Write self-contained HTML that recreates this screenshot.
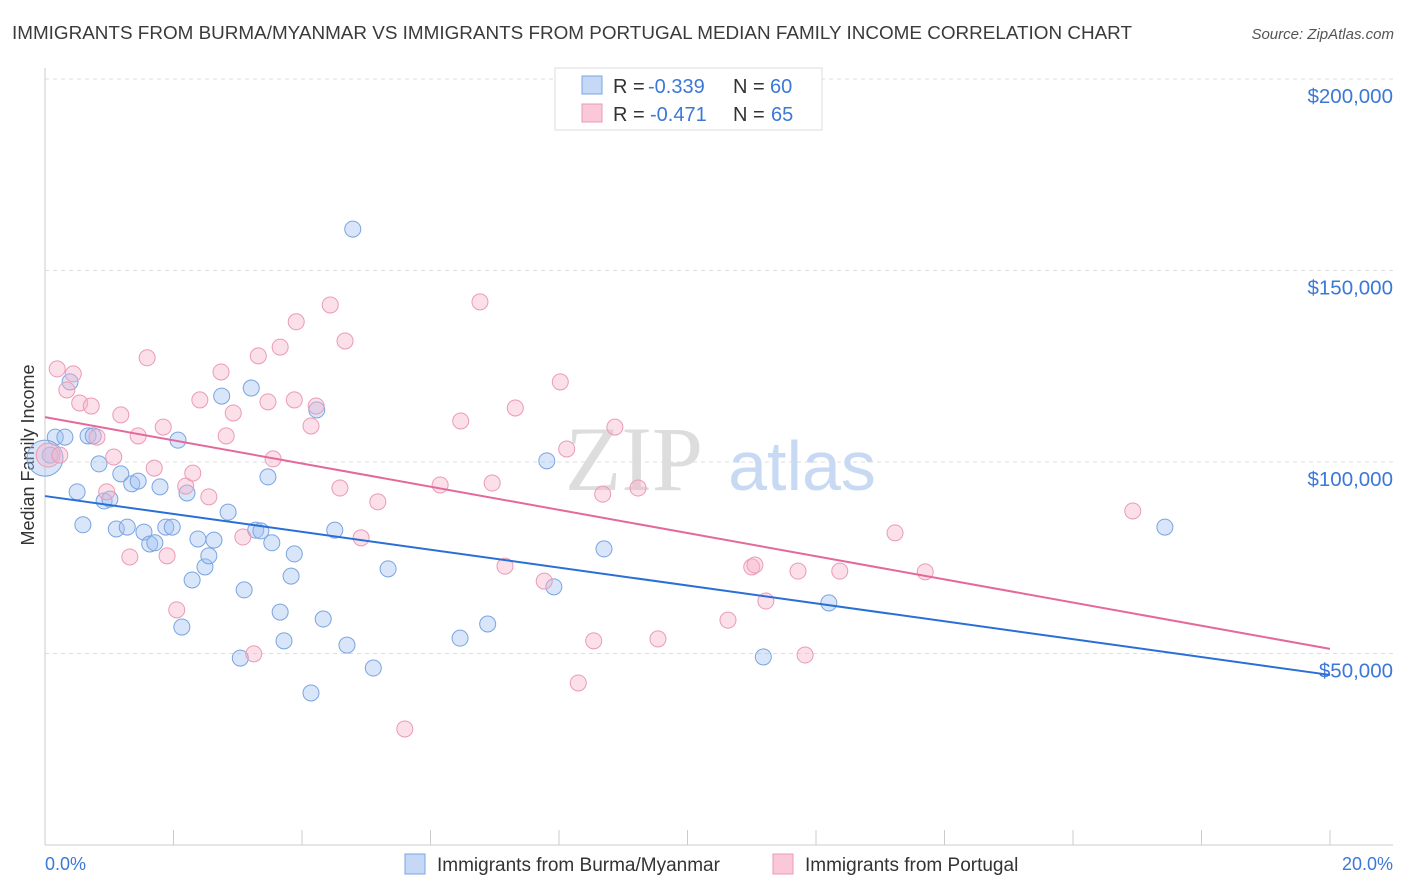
<!DOCTYPE html>
<html><head><meta charset="utf-8">
<style>
body{margin:0;background:#fff;font-family:"Liberation Sans",sans-serif;}
svg{display:block}
</style></head>
<body>
<svg id="chart" width="1406" height="892">
<text x="12" y="39" font-size="18" textLength="1120" lengthAdjust="spacingAndGlyphs" fill="#3a3a3a">IMMIGRANTS FROM BURMA/MYANMAR VS IMMIGRANTS FROM PORTUGAL MEDIAN FAMILY INCOME CORRELATION CHART</text>
<text x="1394" y="39" font-size="15" fill="#555" font-style="italic" text-anchor="end">Source: ZipAtlas.com</text>
<text transform="translate(34,455) rotate(-90)" font-size="18" fill="#333" text-anchor="middle">Median Family Income</text>
<g id="grid"></g>
<g>
<text x="634" y="490" font-size="92" font-family="Liberation Serif,serif" fill="#ddd" text-anchor="middle">ZIP</text>
<text x="802" y="490" font-size="70" fill="#c8daf3" text-anchor="middle">atlas</text>
</g>
<g id="points"></g>
<g id="lines"></g>
<g font-size="20">
<rect x="555" y="68" width="267" height="62" fill="#fff" stroke="#ddd"/>
<rect x="582" y="76" width="20" height="18" fill="#c5d8f6" stroke="#7aa4e0"/>
<rect x="582" y="104" width="20" height="18" fill="#fac8d8" stroke="#eb9ab5"/>
<g>
<text x="613" y="93" fill="#333">R =</text>
<text x="648" y="93" fill="#3b78d8">-0.339</text>
<text x="733" y="93" fill="#333">N =</text>
<text x="770" y="93" fill="#3b78d8">60</text>
</g>
<g>
<text x="613" y="121" fill="#333">R =</text>
<text x="650" y="121" fill="#3b78d8">-0.471</text>
<text x="733" y="121" fill="#333">N =</text>
<text x="771" y="121" fill="#3b78d8">65</text>
</g>
</g>
<g>
<rect x="405" y="854" width="20" height="20" fill="#c5d8f6" stroke="#7aa4e0"/>
<text x="437" y="871" font-size="19" fill="#333">Immigrants from Burma/Myanmar</text>
<rect x="773" y="854" width="20" height="20" fill="#fac8d8" stroke="#eb9ab5"/>
<text x="805" y="871" font-size="19" fill="#333">Immigrants from Portugal</text>
</g>
<text x="45" y="870" font-size="18" fill="#3b78d8">0.0%</text>
<text x="1393" y="870" font-size="18" fill="#3b78d8" text-anchor="end">20.0%</text>
</svg>
<script>
const yTicks=[50000,100000,150000,200000];
const yTickLabels=["$50,000","$100,000","$150,000","$200,000"];
const burmaX=[0.08,0.16,0.31,0.39,0.50,0.59,0.67,0.75,0.84,0.92,1.01,1.11,1.18,1.28,1.35,1.45,1.54,1.63,1.71,1.79,1.88,1.98,2.07,2.13,2.21,2.29,2.38,2.49,2.55,2.63,2.75,2.85,3.04,3.10,3.21,3.28,3.36,3.47,3.53,3.66,3.72,3.83,3.88,4.14,4.23,4.33,4.51,4.70,4.79,5.11,5.34,6.46,6.89,7.81,7.92,8.70,11.18,12.20,17.43,0.0];
const burmaY=[101.8,106.5,106.5,120.9,92.2,83.6,106.8,106.8,99.5,89.8,90.3,82.5,96.9,83.0,94.3,95.0,81.7,78.6,78.9,93.5,83.0,83.0,105.7,56.9,91.9,69.2,79.9,72.6,75.5,79.6,117.2,86.9,48.8,66.6,119.3,82.2,82.0,96.1,78.9,60.8,53.3,70.2,76.0,39.7,113.6,59.0,82.2,52.2,160.8,46.2,72.1,54.0,57.7,100.3,67.4,77.3,49.1,63.2,83.0,101.0];
const portX=[0.05,0.19,0.23,0.34,0.44,0.54,0.72,0.81,0.96,1.07,1.18,1.32,1.45,1.59,1.70,1.84,1.90,2.05,2.19,2.30,2.41,2.55,2.74,2.82,2.93,3.08,3.25,3.32,3.47,3.55,3.66,3.88,3.91,4.14,4.22,4.44,4.59,4.67,4.92,5.18,5.60,6.15,6.47,6.77,6.96,7.16,7.32,7.77,8.02,8.12,8.30,8.54,8.68,8.87,9.23,9.54,10.63,11.00,11.05,11.22,11.72,11.83,12.37,13.23,13.70,16.93];
const portY=[101.8,124.3,101.8,118.8,123.0,115.4,114.6,106.5,92.2,101.3,112.3,75.2,106.8,127.2,98.4,109.1,75.5,61.4,93.7,97.1,116.2,90.9,123.5,106.8,112.8,80.4,49.9,127.7,115.7,100.8,130.0,116.2,136.6,109.4,114.6,141.0,93.2,131.6,80.2,89.6,30.3,94.0,110.7,141.8,94.5,72.8,114.1,68.9,120.9,103.4,42.3,53.3,91.6,109.1,93.2,53.8,58.7,72.6,73.1,63.7,71.5,49.6,71.5,81.5,71.3,87.2];
const trendX=[0,20];
const burmaTrend=[91.1,44.4];
const portTrend=[111.7,51.2];
const NS="http://www.w3.org/2000/svg";
const xs=v=>45+v*64.25;
const ys=v=>845-v*0.0038302;
function mk(tag,attrs,parent){const e=document.createElementNS(NS,tag);for(const k in attrs)e.setAttribute(k,attrs[k]);parent.appendChild(e);return e;}
const grid=document.getElementById('grid');
mk('line',{x1:45,y1:68,x2:45,y2:845,stroke:'#ccc'},grid);
mk('line',{x1:45,y1:845,x2:1393,y2:845,stroke:'#ccc'},grid);
for(let i=1;i<=10;i++){const x=45+i*128.5;mk('line',{x1:x,y1:830,x2:x,y2:845,stroke:'#ccc'},grid);}
yTicks.forEach((t,i)=>{
 const y=ys(t);
 const l=mk('line',{x1:45,y1:y,x2:1393,y2:y,stroke:'#ddd','stroke-dasharray':'4,4'},grid);
 
 
 const tx=mk('text',{x:1393,y:y+24,'font-size':20.5,fill:'#3b78d8','text-anchor':'end'},grid);
 tx.textContent=yTickLabels[i];
 
 
});
const pts=document.getElementById('points');
burmaX.forEach((x,i)=>{
 const big=(i===burmaX.length-1);
 const c=mk('circle',{cx:xs(x),cy:ys(burmaY[i]*1000),r:big?18:8,fill:'rgba(160,192,242,0.4)',stroke:'#7aa4e0','stroke-width':1},pts);
 
 
});
portX.forEach((x,i)=>{
 const c=mk('circle',{cx:xs(x),cy:ys(portY[i]*1000),r:i===0?12:8,fill:'rgba(248,178,200,0.4)',stroke:'#eb9ab5','stroke-width':1},pts);
 
 
});
const lines=document.getElementById('lines');
const b=mk('line',{x1:xs(trendX[0]),y1:ys(burmaTrend[0]*1000),x2:xs(trendX[1]),y2:ys(burmaTrend[1]*1000),stroke:'#2a6fd6','stroke-width':2},lines);


const p=mk('line',{x1:xs(trendX[0]),y1:ys(portTrend[0]*1000),x2:xs(trendX[1]),y2:ys(portTrend[1]*1000),stroke:'#e4699a','stroke-width':2},lines);


</script>
</body></html>
